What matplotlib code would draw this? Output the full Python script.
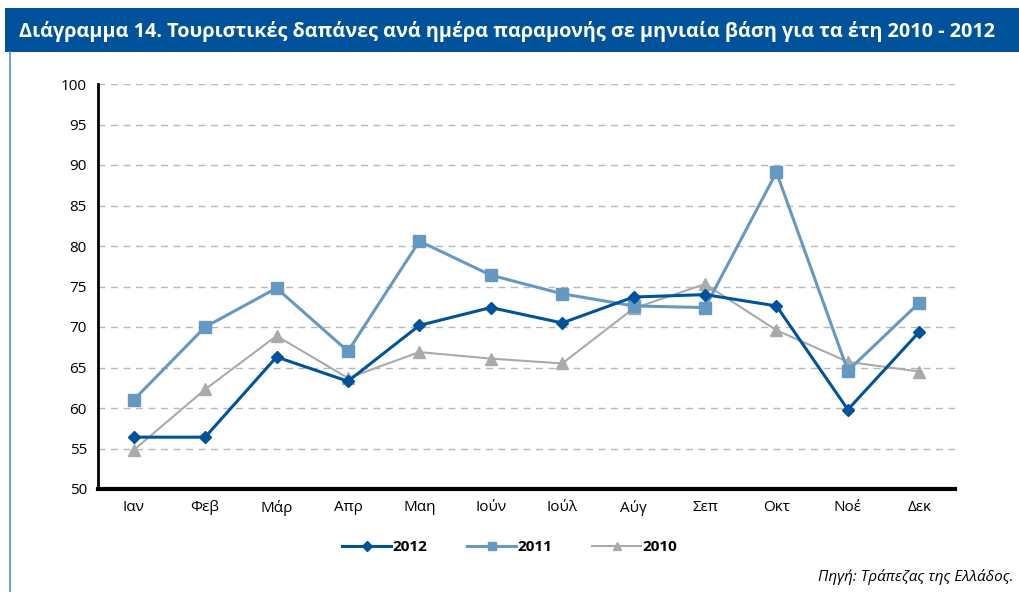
import matplotlib
matplotlib.use("Agg")
import matplotlib.pyplot as plt
from matplotlib.lines import Line2D
from matplotlib.patches import Rectangle

plt.rcParams['font.family'] = ['Open Sans', 'DejaVu Sans']

months = ["Ιαν", "Φεβ", "Μάρ", "Απρ", "Μαη", "Ιούν", "Ιούλ", "Αύγ", "Σεπ", "Οκτ", "Νοέ", "Δεκ"]
s2012 = [56.4, 56.4, 66.3, 63.3, 70.2, 72.4, 70.5, 73.7, 74.0, 72.6, 59.8, 69.4]
s2011 = [61.0, 70.0, 74.8, 67.0, 80.6, 76.4, 74.1, 72.6, 72.4, 89.1, 64.6, 73.0]
s2010 = [54.8, 62.3, 68.9, 63.7, 66.9, 66.1, 65.5, 72.3, 75.3, 69.6, 65.7, 64.5]
yticks = [50, 55, 60, 65, 70, 75, 80, 85, 90, 95, 100]

W, H = 1019, 592
fig = plt.figure(figsize=(W/100, H/100), dpi=100)

# title bar
fig.patches.append(Rectangle((5/W, 1-52/H), 1-5/W, 44/H, transform=fig.transFigure,
                             facecolor="#00539b", edgecolor="none", zorder=0))
fig.text(19/W, 1-31/H, "Διάγραμμα 14. Τουριστικές δαπάνες ανά ημέρα παραμονής σε μηνιαία βάση για τα έτη 2010 - 2012",
         color="white", fontsize=14.3, fontweight="bold", va="center", ha="left")
# left vertical line
fig.lines.append(Line2D([10/W, 10/W], [0, 1-52/H], transform=fig.transFigure, color="#5b8fc4", lw=1.2))

ax = fig.add_axes([98/W, (H-489)/H, (955-98)/W, (489-84)/H])
x = [i + 0.5 for i in range(len(months))]
l1, = ax.plot(x, s2012, color="#00539b", lw=2.2, marker="D", ms=6, label="2012", zorder=4)
l2, = ax.plot(x, s2011, color="#6699c2", lw=2.2, marker="s", ms=8, label="2011", zorder=3)
l3, = ax.plot(x, s2010, color="#aaaaaa", lw=1.5, marker="^", ms=8, label="2010", zorder=2)

ax.set_xlim(0, 12)
ax.set_ylim(50, 100)
ax.set_yticks(yticks)
ax.set_xticks(x)
ax.set_xticklabels(months)
ax.tick_params(length=0, labelsize=11, colors="black")
ax.tick_params(axis="x", pad=8)
ax.tick_params(axis="y", pad=8)
for yv in yticks[1:]:
    ax.axhline(yv, color="#b8b8b8", lw=1, ls=(0, (5, 4)), zorder=1)
for s in ["top", "right"]:
    ax.spines[s].set_visible(False)
ax.spines["left"].set_linewidth(2)
ax.spines["bottom"].set_linewidth(3)

leg = fig.legend(handles=[l1, l2, l3], loc="center", bbox_to_anchor=(510/W, 1-547/H),
                 ncol=3, frameon=False, handlelength=3.2, columnspacing=2.6, handletextpad=0.1,
                 markerscale=0.8, prop={"weight": "bold", "size": 11})

fig.text(1014/W, 1-577/H, "Πηγή: Τράπεζας της Ελλάδος.", ha="right", va="center",
         fontsize=11, style="italic")

fig.savefig("out.png", dpi=100)
